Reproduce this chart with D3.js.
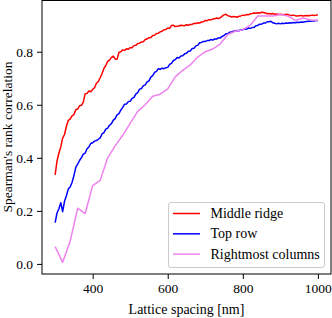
<!DOCTYPE html>
<html>
<head>
<meta charset="utf-8">
<script src="https://cdn.jsdelivr.net/npm/d3@7"></script>
<style>
  body { margin: 0; background: #fff; }
  svg { display: block; }
  text { font-family: "Liberation Serif", "DejaVu Serif", serif; fill: #000; }
</style>
</head>
<body>
<svg id="chart" width="332" height="318"></svg>
<script>
// lattice spacing grids [nm]
const spacingFine = d3.range(300, 1001, 5);
const spacingCoarse = d3.range(300, 1001, 20);

const middleRidge = [
  0.336, 0.388, 0.418, 0.441, 0.474, 0.488, 0.519, 0.541, 0.546, 0.558,
  0.563, 0.581, 0.584, 0.596, 0.598, 0.61, 0.641, 0.643, 0.652, 0.649,
  0.658, 0.664, 0.681, 0.688, 0.702, 0.718, 0.737, 0.748, 0.764, 0.768,
  0.779, 0.783, 0.773, 0.772, 0.797, 0.8, 0.807, 0.805, 0.811, 0.809,
  0.816, 0.815, 0.823, 0.824, 0.831, 0.832, 0.837, 0.838, 0.846, 0.848,
  0.853, 0.854, 0.861, 0.862, 0.869, 0.87, 0.875, 0.877, 0.883, 0.884,
  0.889, 0.888, 0.899, 0.9, 0.895, 0.896, 0.897, 0.9, 0.899, 0.898,
  0.902, 0.9, 0.903, 0.903, 0.907, 0.906, 0.909, 0.908, 0.912, 0.913,
  0.918, 0.917, 0.921, 0.92, 0.923, 0.924, 0.927, 0.925, 0.928, 0.934,
  0.939, 0.941, 0.936, 0.934, 0.931, 0.933, 0.932, 0.93, 0.934, 0.935,
  0.938, 0.937, 0.94, 0.939, 0.943, 0.944, 0.946, 0.945, 0.947, 0.946,
  0.949, 0.948, 0.946, 0.943, 0.944, 0.942, 0.944, 0.941, 0.942, 0.94,
  0.941, 0.94, 0.939, 0.941, 0.94, 0.938, 0.937, 0.938, 0.936, 0.935,
  0.936, 0.937, 0.935, 0.936, 0.937, 0.936, 0.937, 0.938, 0.937, 0.938,
  0.938
];

const topRow = [
  0.156, 0.192, 0.208, 0.231, 0.197, 0.236, 0.257, 0.282, 0.29, 0.307,
  0.333, 0.364, 0.376, 0.39, 0.401, 0.414, 0.418, 0.434, 0.441, 0.454,
  0.457, 0.463, 0.465, 0.47, 0.475, 0.49, 0.495, 0.508, 0.512, 0.523,
  0.529, 0.542, 0.548, 0.562, 0.567, 0.58, 0.59, 0.602, 0.603, 0.612,
  0.613, 0.624, 0.628, 0.64, 0.646, 0.659, 0.661, 0.672, 0.675, 0.686,
  0.69, 0.704, 0.71, 0.722, 0.726, 0.736, 0.734, 0.738, 0.736, 0.74,
  0.741, 0.752, 0.756, 0.767, 0.77, 0.778, 0.776, 0.784, 0.785, 0.792,
  0.794, 0.802, 0.803, 0.812, 0.813, 0.822, 0.824, 0.834, 0.835, 0.839,
  0.839, 0.842, 0.842, 0.846, 0.844, 0.848, 0.848, 0.852, 0.852, 0.858,
  0.861, 0.868, 0.868, 0.873, 0.874, 0.878, 0.877, 0.88, 0.879, 0.883,
  0.883, 0.886, 0.885, 0.889, 0.888, 0.891, 0.892, 0.898, 0.899, 0.904,
  0.904, 0.908, 0.908, 0.913, 0.913, 0.915, 0.909, 0.907, 0.905, 0.907,
  0.905, 0.907, 0.906, 0.908, 0.907, 0.909, 0.908, 0.91, 0.909, 0.911,
  0.91, 0.912, 0.911, 0.913, 0.914, 0.915, 0.915, 0.917, 0.916, 0.918,
  0.918
];

const rightmostColumns = [
  0.065, 0.006, 0.085, 0.21, 0.19, 0.295, 0.315, 0.40, 0.445, 0.485,
  0.53, 0.575, 0.60, 0.632, 0.64, 0.66, 0.705, 0.73, 0.75, 0.78,
  0.80, 0.81, 0.83, 0.865, 0.877, 0.883, 0.90, 0.935, 0.935, 0.935,
  0.94, 0.935, 0.918, 0.927, 0.92, 0.918
];

const seriesNames = ["Middle ridge", "Top row", "Rightmost columns"];
const seriesColors = ["#ff0000", "#0000ff", "#ee82ee"];

const xTicks = [400, 600, 800, 1000];
const yTicks = [0.0, 0.2, 0.4, 0.6, 0.8];

const svg = d3.select("#chart");
const m = { left: 42, top: 0.5, right: 331, bottom: 274 };

const x = d3.scaleLinear().domain([265, 1035]).range([m.left, m.right]);
const y = d3.scaleLinear().domain([-0.038, 0.995]).range([m.bottom, 0]);

const series = [
  { name: seriesNames[0], color: seriesColors[0], xs: spacingFine, ys: middleRidge },
  { name: seriesNames[1], color: seriesColors[1], xs: spacingFine, ys: topRow },
  { name: seriesNames[2], color: seriesColors[2], xs: spacingCoarse, ys: rightmostColumns }
];

const line = d3.line()
  .x(d => x(d[0]))
  .y(d => y(d[1]));

const plot = svg.append("g");
series.forEach(s => {
  plot.append("path")
    .datum(s.xs.map((v, i) => [v, s.ys[i]]))
    .attr("fill", "none")
    .attr("stroke", s.color)
    .attr("stroke-width", 1.5)
    .attr("stroke-linejoin", "round")
    .attr("d", line);
});

// axes
const xAxis = d3.axisBottom(x).tickValues(xTicks).tickSize(5).tickPadding(4)
  .tickFormat(d3.format("d"));
const yAxis = d3.axisLeft(y).tickValues(yTicks).tickSize(5).tickPadding(4)
  .tickFormat(d3.format(".1f"));

const gx = svg.append("g").attr("transform", `translate(0,${m.bottom})`).call(xAxis);
const gy = svg.append("g").attr("transform", `translate(${m.left},0)`).call(yAxis);
[gx, gy].forEach(g => {
  g.select(".domain").remove();
  g.selectAll("line").attr("stroke", "#000").attr("stroke-width", 1);
  g.selectAll("text").style("font-family", '"Liberation Serif", serif').style("font-size", "13.5px");
});

// frame
svg.append("rect")
  .attr("x", m.left).attr("y", m.top)
  .attr("width", m.right - m.left).attr("height", m.bottom - m.top)
  .attr("fill", "none").attr("stroke", "#000").attr("stroke-width", 1);

// labels
svg.append("text")
  .attr("x", (m.left + m.right) / 2).attr("y", 314)
  .attr("text-anchor", "middle").style("font-size", "14px")
  .text("Lattice spacing [nm]");

svg.append("text")
  .attr("transform", `translate(12,137) rotate(-90)`)
  .attr("text-anchor", "middle").style("font-size", "13.5px")
  .text("Spearman's rank correlation");

// legend
const lg = svg.append("g").attr("transform", "translate(168.5,202.5)");
lg.append("rect")
  .attr("width", 156).attr("height", 65).attr("rx", 2.5)
  .attr("fill", "#fff").attr("fill-opacity", 0.8)
  .attr("stroke", "#cccccc").attr("stroke-width", 1);
series.forEach((s, i) => {
  const yy = 11 + i * 20.3;
  lg.append("line")
    .attr("x1", 4.5).attr("x2", 31.5).attr("y1", yy).attr("y2", yy)
    .attr("stroke", s.color).attr("stroke-width", 1.5);
  lg.append("text")
    .attr("x", 42).attr("y", yy + 4.5)
    .style("font-size", "14px")
    .text(s.name);
});
</script>
</body>
</html>
